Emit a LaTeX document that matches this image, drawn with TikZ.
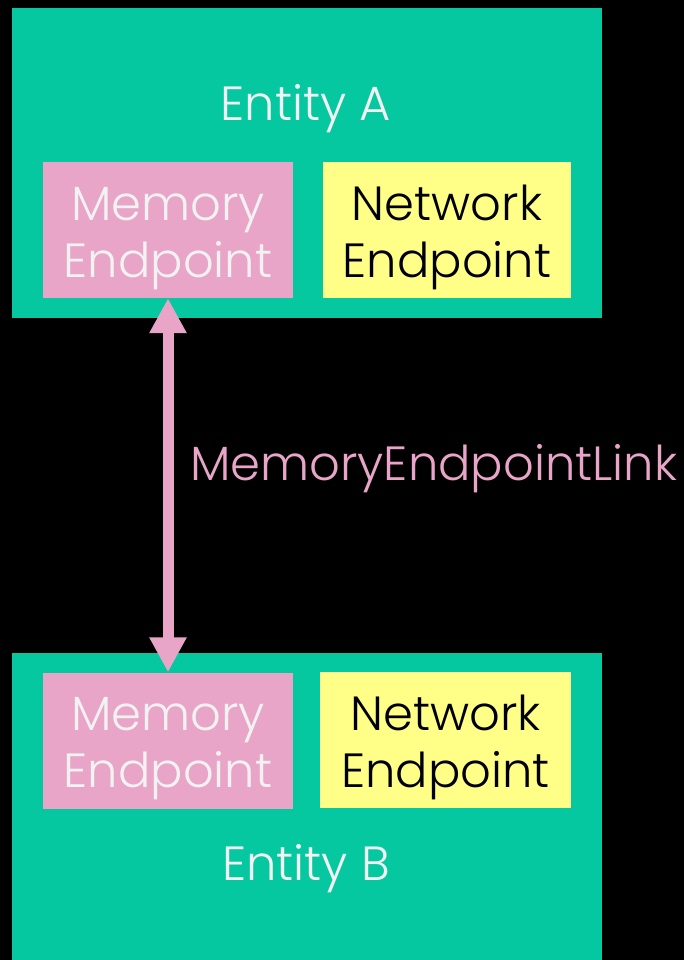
\documentclass[tikz,border=0pt]{standalone}
\usepackage{fontspec}
\setmainfont{Poppins}[UprightFont={* Light}]
\usetikzlibrary{arrows.meta}
\definecolor{teal}{HTML}{05C8A0}
\definecolor{pinkbox}{HTML}{E8A5C8}
\definecolor{yellowbox}{HTML}{FFFF88}
\definecolor{softwhite}{HTML}{F2F2F2}
\tikzset{
  entity/.style={fill=teal, draw=none},
  bigtext/.style={font=\fontsize{48}{57}\selectfont, inner sep=0pt, anchor=base, align=center},
  entitytext/.style={bigtext, text=softwhite},
  memtext/.style={bigtext, text=softwhite},
  nettext/.style={bigtext, text=black},
  endbox/.style={draw=none, minimum height=136pt, inner sep=0pt},
  membox/.style={endbox, fill=pinkbox, minimum width=250pt},
  netbox/.style={endbox, fill=yellowbox},
  link/.style={draw=pinkbox, line width=11pt,
    {Triangle[length=35pt,width=35pt]}-{Triangle[length=35pt,width=35pt]}},
  linktext/.style={font=\fontsize{48}{57}\selectfont, text=pinkbox, anchor=base west, inner sep=0pt}
}
\begin{document}
\begin{tikzpicture}[x=1pt,y=-1pt]
  \fill[black] (0,0) rectangle (684,960);
  \useasboundingbox (0,0) rectangle (684,960);
  % entity A
  \fill[entity] (12,8) rectangle (602,318);
  \node[entitytext] (entA) at (306,121) {Entity A};
  \node[membox] (memA) at (168,230) {};
  \node[netbox, minimum width=248pt] (netA) at (447,230) {};
  % entity B
  \fill[entity] (12,653) rectangle (602,960);
  \node[membox] (memB) at (168,740.5) {};
  \node[netbox, minimum width=251pt] (netB) at (445.5,740) {};
  \node[entitytext] (entB) at (306,880) {Entity B};
  % link between the memory endpoints
  \draw[link] (memA.south) -- (memB.north);
  \node[linktext] (lbl) at (190,480) {MemoryEndpointLink};
  % endpoint captions (anchored at the baseline of the second line)
  \node[memtext] (memAtext) at (168,277) {Memory\\Endpoint};
  \node[nettext] (netAtext) at (447,277) {Network\\Endpoint};
  \node[memtext] (memBtext) at (168,787) {Memory\\Endpoint};
  \node[nettext] (netBtext) at (445.5,787) {Network\\Endpoint};
\end{tikzpicture}
\end{document}
